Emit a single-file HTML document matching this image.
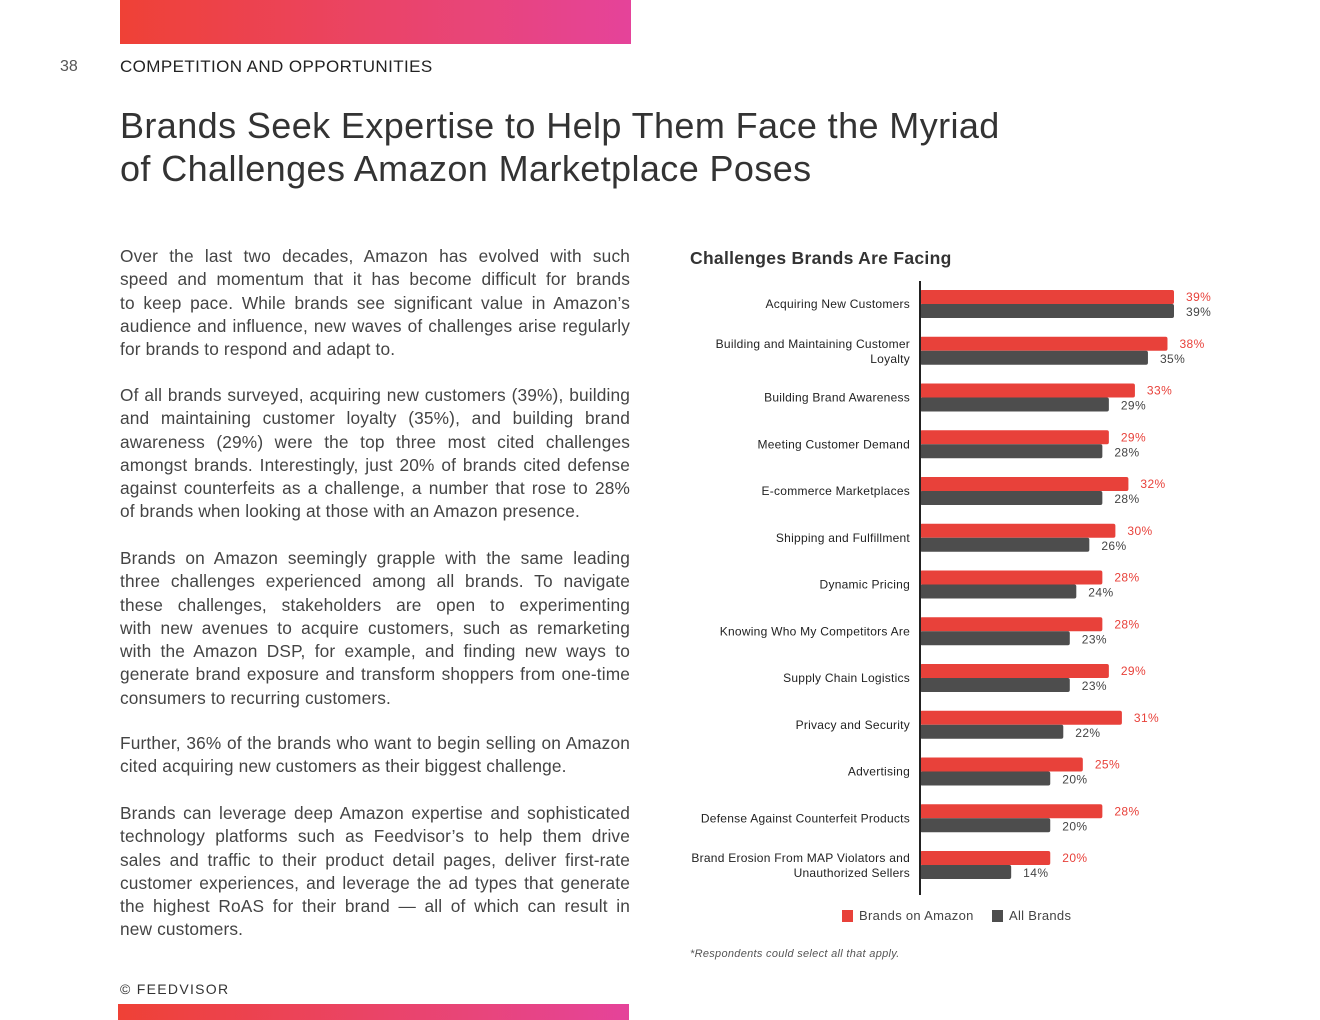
<!DOCTYPE html>
<html><head><meta charset="utf-8"><style>
body{margin:0;width:1320px;height:1020px;background:#fff;position:relative;overflow:hidden;font-family:"Liberation Sans",sans-serif;color:#333}
.abs{position:absolute}
.grad{background:linear-gradient(90deg,#ef4136,#e8457a 70%,#e5439a)}
p{position:absolute;left:120px;width:510px;margin:0;font-size:17.3px;line-height:23.3px;color:#444;letter-spacing:0.15px}
p span{display:block;white-space:nowrap;text-align:justify;text-align-last:justify}
p span.l{text-align-last:left}
</style></head><body>
<div class="abs grad" style="left:120px;top:0;width:511px;height:44px"></div>
<div class="abs" style="left:60px;top:58px;font-size:16px;color:#555">38</div>
<div class="abs" style="left:120px;top:57px;font-size:17px;letter-spacing:0.4px;color:#222">COMPETITION AND OPPORTUNITIES</div>
<div class="abs" style="left:120px;top:104px;font-size:36px;line-height:43px;color:#333;width:900px;letter-spacing:0.4px">Brands Seek Expertise to Help Them Face the Myriad of Challenges Amazon Marketplace Poses</div>
<p style="top:245px"><span>Over the last two decades, Amazon has evolved with such</span><span>speed and momentum that it has become difficult for brands</span><span>to keep pace. While brands see significant value in Amazon’s</span><span>audience and influence, new waves of challenges arise regularly</span><span class="l">for brands to respond and adapt to.</span></p>
<p style="top:384px"><span>Of all brands surveyed, acquiring new customers (39%), building</span><span>and maintaining customer loyalty (35%), and building brand</span><span>awareness (29%) were the top three most cited challenges</span><span>amongst brands. Interestingly, just 20% of brands cited defense</span><span>against counterfeits as a challenge, a number that rose to 28%</span><span class="l">of brands when looking at those with an Amazon presence.</span></p>
<p style="top:547px"><span>Brands on Amazon seemingly grapple with the same leading</span><span>three challenges experienced among all brands. To navigate</span><span>these challenges, stakeholders are open to experimenting</span><span>with new avenues to acquire customers, such as remarketing</span><span>with the Amazon DSP, for example, and finding new ways to</span><span>generate brand exposure and transform shoppers from one-time</span><span class="l">consumers to recurring customers.</span></p>
<p style="top:732px"><span>Further, 36% of the brands who want to begin selling on Amazon</span><span class="l">cited acquiring new customers as their biggest challenge.</span></p>
<p style="top:802px"><span>Brands can leverage deep Amazon expertise and sophisticated</span><span>technology platforms such as Feedvisor’s to help them drive</span><span>sales and traffic to their product detail pages, deliver first-rate</span><span>customer experiences, and leverage the ad types that generate</span><span>the highest RoAS for their brand — all of which can result in</span><span class="l">new customers.</span></p>
<div class="abs" style="left:120px;top:981px;font-size:14px;letter-spacing:1.3px;color:#333">© FEEDVISOR</div>
<div class="abs grad" style="left:118px;top:1004px;width:511px;height:16px"></div>
<div class="abs" style="left:690px;top:248px;font-size:17.5px;font-weight:bold;color:#333;letter-spacing:0.3px">Challenges Brands Are Facing</div>
<svg class="abs" id="chart" style="left:0;top:0" width="1320" height="1020"></svg>
<div class="abs" style="left:690px;top:948px;font-size:11px;font-style:italic;color:#555;letter-spacing:0.3px">*Respondents could select all that apply.</div>
<script>
const categories=[["Acquiring New Customers"],["Building and Maintaining Customer","Loyalty"],["Building Brand Awareness"],["Meeting Customer Demand"],["E-commerce Marketplaces"],["Shipping and Fulfillment"],["Dynamic Pricing"],["Knowing Who My Competitors Are"],["Supply Chain Logistics"],["Privacy and Security"],["Advertising"],["Defense Against Counterfeit Products"],["Brand Erosion From MAP Violators and","Unauthorized Sellers"]];
const amazonValues=[39,38,33,29,32,30,28,28,29,31,25,28,20];
const allValues=[39,35,29,28,28,26,24,23,23,22,20,20,14];
const seriesNames=["Brands on Amazon","All Brands"];
const svg=document.getElementById('chart');const NS='http://www.w3.org/2000/svg';
const x0=920,pxPer=254/39;
const xs=v=>x0+v*pxPer;
const ys=i=>290+i*46.75;
function mk(t,a,txt){const e=document.createElementNS(NS,t);for(const k in a)e.setAttribute(k,a[k]);if(txt!=null)e.textContent=txt;svg.appendChild(e);return e;}
categories.forEach((c,i)=>{
 const y=ys(i);
 let r=mk('rect',{x:x0,y:y,width:xs(amazonValues[i])-x0,height:14,rx:2,fill:'#e8413a'});
 
 
 let g=mk('rect',{x:x0,y:y+14,width:xs(allValues[i])-x0,height:14,rx:2,fill:'#4d4d4d'});
 
 
 let t1=mk('text',{x:xs(amazonValues[i])+12,y:y+11,'font-size':12,fill:'#e8413a','font-family':'Liberation Sans','letter-spacing':0.4},amazonValues[i]+'%');
 
 
 let t2=mk('text',{x:xs(allValues[i])+12,y:y+26,'font-size':12,fill:'#444','font-family':'Liberation Sans','letter-spacing':0.4},allValues[i]+'%');
 
 
 const base=c.length===1?y+18:y+11;
 c.forEach((line,j)=>{let l=mk('text',{x:910,y:base+j*15,'font-size':12,fill:'#222','text-anchor':'end','font-family':'Liberation Sans','letter-spacing':0.25},line);
 
 });
});
let ax=mk('line',{x1:x0,y1:281,x2:x0,y2:895,stroke:'#222','stroke-width':2});


[[842,'#e8413a',seriesNames[0]],[992,'#4d4d4d',seriesNames[1]]].forEach(([lx,col,name])=>{
 let s=mk('rect',{x:lx,y:910,width:11,height:12,fill:col});
 
 
 let t=mk('text',{x:lx+17,y:920,'font-size':13,fill:'#444','font-family':'Liberation Sans','letter-spacing':0.3},name);
 
 
});
</script>
</body></html>
